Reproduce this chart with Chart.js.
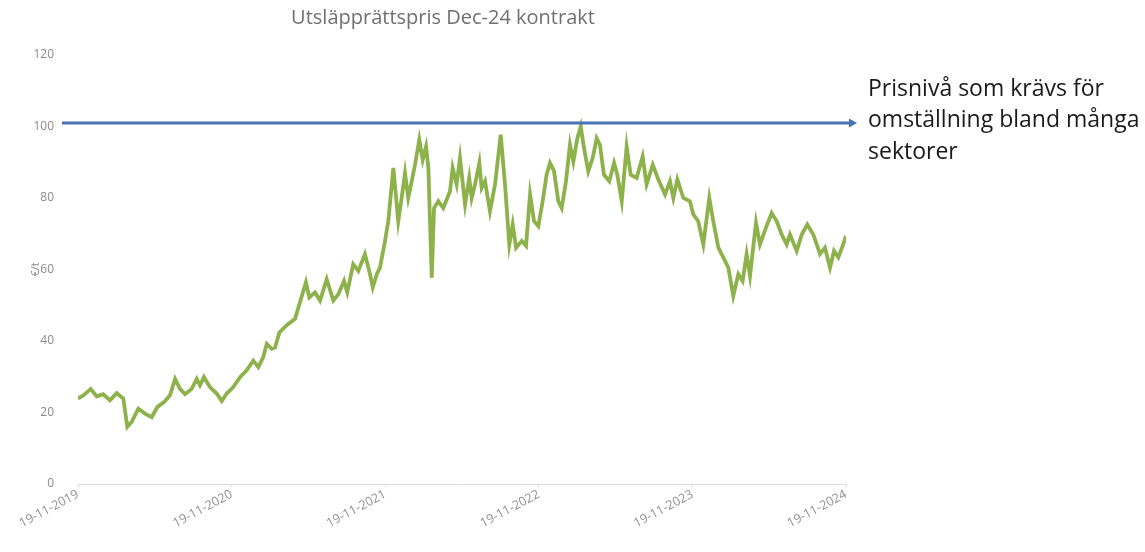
<!DOCTYPE html>
<html>
<head>
<meta charset="utf-8">
<script src="https://cdn.jsdelivr.net/npm/chart.js@4"></script>
<style>
  html, body { margin: 0; padding: 0; background: #fff; }
  #wrap { width: 1145px; height: 552px; }
</style>
</head>
<body>
<div id="wrap"><canvas id="priceChart"></canvas></div>
<script>
// time in years since 19-11-2019, EUA Dec-24 price in €/t
const yearPos = [
    0.000, 0.035, 0.083, 0.122, 0.165, 0.208, 0.252, 0.295, 0.321, 0.350,
    0.393, 0.436, 0.480, 0.516, 0.560, 0.599, 0.632, 0.664, 0.697, 0.740,
    0.773, 0.794, 0.820, 0.859, 0.903, 0.936, 0.968, 1.011, 1.055, 1.098,
    1.141, 1.174, 1.206, 1.229, 1.261, 1.283, 1.311, 1.361, 1.413, 1.484,
    1.506, 1.543, 1.576, 1.619, 1.662, 1.695, 1.732, 1.753, 1.792, 1.825,
    1.868, 1.901, 1.919, 1.945, 1.966, 1.999, 2.020, 2.053, 2.085, 2.107,
    2.129, 2.150, 2.173, 2.194, 2.222, 2.244, 2.266, 2.281, 2.303, 2.318,
    2.346, 2.378, 2.422, 2.439, 2.465, 2.487, 2.520, 2.547, 2.563, 2.585,
    2.613, 2.628, 2.650, 2.682, 2.715, 2.752, 2.780, 2.808, 2.830, 2.852,
    2.889, 2.917, 2.943, 2.969, 2.997, 3.025, 3.051, 3.073, 3.099, 3.127,
    3.149, 3.177, 3.203, 3.225, 3.251, 3.273, 3.294, 3.322, 3.351, 3.377,
    3.398, 3.424, 3.459, 3.490, 3.511, 3.540, 3.572, 3.598, 3.637, 3.676,
    3.702, 3.742, 3.778, 3.822, 3.854, 3.876, 3.902, 3.941, 3.984, 4.006,
    4.038, 4.071, 4.110, 4.136, 4.169, 4.201, 4.234, 4.266, 4.299, 4.327,
    4.353, 4.375, 4.414, 4.440, 4.479, 4.516, 4.549, 4.581, 4.614, 4.635,
    4.679, 4.712, 4.748, 4.787, 4.831, 4.863, 4.896, 4.922, 4.950, 4.982,
    5.000
];
const price = [
    23.9, 24.8, 26.6, 24.5, 25.1, 23.4, 25.4, 23.9, 16.0, 17.4,
    21.1, 19.7, 18.7, 21.5, 22.9, 24.8, 29.4, 26.6, 25.1, 26.6,
    29.4, 27.6, 29.9, 27.1, 25.3, 23.2, 25.3, 27.1, 29.9, 31.8,
    34.5, 32.7, 35.5, 39.2, 37.8, 38.2, 42.4, 44.5, 46.2, 56.4,
    52.2, 53.6, 51.3, 57.3, 51.3, 53.1, 56.8, 53.6, 61.5, 59.6,
    64.3, 58.7, 55.0, 58.7, 60.5, 68.0, 73.5, 88.4, 73.5, 80.0,
    87.0, 80.0, 84.7, 89.3, 96.3, 90.7, 94.4, 88.4, 57.7, 77.2,
    79.1, 77.2, 81.9, 88.4, 83.8, 91.2, 78.2, 85.6, 80.0, 83.8,
    89.8, 82.8, 84.7, 76.3, 83.8, 97.7, 83.8, 67.0, 72.6, 66.1,
    68.0, 66.6, 81.0, 73.5, 72.1, 79.1, 86.5, 89.8, 87.5, 79.1,
    77.2, 84.7, 94.9, 90.2, 96.7, 100.0, 94.0, 87.5, 91.2, 96.7,
    94.9, 86.5, 84.7, 89.8, 86.5, 79.1, 94.4, 86.5, 85.6, 91.6,
    83.8, 89.3, 85.2, 81.0, 84.7, 80.0, 85.2, 80.0, 79.1, 75.4,
    73.5, 67.0, 80.0, 73.5, 66.1, 63.4, 60.5, 52.6, 58.7, 56.8,
    64.3, 58.2, 73.1, 67.0, 71.7, 75.8, 73.5, 69.8, 67.0, 69.8,
    65.2, 69.8, 72.6, 69.8, 64.3, 66.1, 60.5, 65.2, 63.4, 67.0,
    69.4
];
const startYear = 2019;
const targetLevel = 101;
const chartTitle = 'Utsläpprättspris Dec-24 kontrakt';
const noteLines = ['Prisnivå som krävs för', 'omställning bland många', 'sektorer'];

const points = yearPos.map((x, i) => ({ x: x, y: price[i] }));

// title, blue arrow at the target level and the note right of the plot
const annotations = {
    id: 'annotations',
    afterDatasetsDraw(chart) {
        const ctx = chart.ctx;
        const area = chart.chartArea;
        const y = chart.scales.y.getPixelForValue(targetLevel);
        const x0 = area.left - 16;
        const x1 = area.right + 11;
        ctx.save();

        ctx.fillStyle = '#707070';
        ctx.font = '20px "Open Sans"';
        ctx.textAlign = 'center';
        ctx.textBaseline = 'middle';
        ctx.fillText(chartTitle, 443, 18);

        ctx.strokeStyle = '#4a73b5';
        ctx.fillStyle = '#4a73b5';
        ctx.lineWidth = 3;
        ctx.beginPath();
        ctx.moveTo(x0, y);
        ctx.lineTo(x1 - 6, y);
        ctx.stroke();
        ctx.beginPath();
        ctx.moveTo(x1, y);
        ctx.lineTo(x1 - 8, y - 4.5);
        ctx.lineTo(x1 - 8, y + 4.5);
        ctx.closePath();
        ctx.fill();

        ctx.fillStyle = '#1a1a1a';
        ctx.font = '23px "Open Sans"';
        ctx.textAlign = 'left';
        noteLines.forEach((line, i) => {
            ctx.fillText(line, 868, 89 + i * 31.5);
        });
        ctx.restore();
    }
};

new Chart(document.getElementById('priceChart'), {
    type: 'line',
    data: {
        datasets: [{
            data: points,
            borderColor: '#8db24c',
            borderWidth: 3.8,
            pointRadius: 0,
            tension: 0,
            fill: false
        }]
    },
    options: {
        responsive: true,
        maintainAspectRatio: false,
        animation: false,
        layout: {
            padding: { left: 0, right: 299, top: 55, bottom: 0 }
        },
        plugins: {
            legend: { display: false },
            tooltip: { enabled: false },
            title: { display: false }
        },
        scales: {
            x: {
                type: 'linear',
                min: 0,
                max: 5,
                border: { display: true, color: '#dcdcdc', width: 1 },
                grid: { drawOnChartArea: false, drawTicks: true, tickLength: 3, color: '#dcdcdc' },
                ticks: {
                    stepSize: 1,
                    maxRotation: 28,
                    minRotation: 28,
                    color: '#909090',
                    font: { family: 'Open Sans', size: 12.5 },
                    padding: 0,
                    callback: (v) => '19-11-' + (startYear + v)
                },
                // fixed axis band, let the first label hang past the left edge
                afterFit: (scale) => {
                    scale.height = 68;
                    scale.paddingLeft = 0;
                    scale.paddingRight = 0;
                }
            },
            y: {
                min: 0,
                max: 120,
                border: { display: false },
                grid: { display: false },
                title: {
                    display: true,
                    text: '€/t',
                    color: '#8a8a8a',
                    font: { family: 'Open Sans', size: 11 },
                    padding: { top: 29, bottom: 0 }
                },
                ticks: {
                    stepSize: 20,
                    color: '#8a8a8a',
                    font: { family: 'Open Sans', size: 12 },
                    padding: 16
                },
                afterFit: (scale) => {
                    scale.width = 78;
                }
            }
        }
    },
    plugins: [annotations]
});
</script>
</body>
</html>
